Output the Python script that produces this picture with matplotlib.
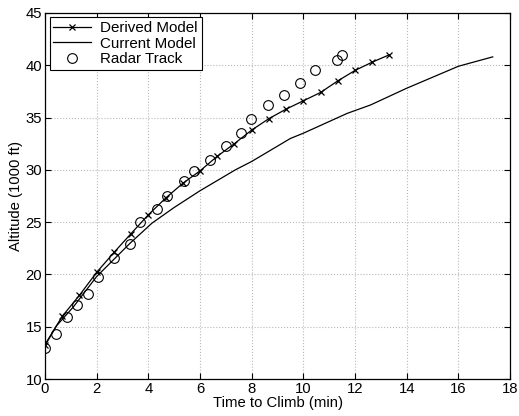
import numpy as np
import matplotlib
matplotlib.use('Agg')
import matplotlib.pyplot as plt

plt.rcParams['font.family'] = ['Liberation Sans', 'DejaVu Sans']
plt.rcParams['font.size'] = 10.7

# ---- data ----
derived_t = [0, 0.67, 1.33, 2.0, 2.67, 3.33, 4.0, 4.67, 5.33, 6.0, 6.67,
             7.33, 8.0, 8.67, 9.33, 10.0, 10.67, 11.33, 12.0, 12.67, 13.33]
derived_alt = [13.3, 16.0, 18.0, 20.2, 22.1, 23.9, 25.7, 27.3, 28.7, 29.9, 31.3,
               32.5, 33.8, 34.9, 35.8, 36.6, 37.4, 38.5, 39.5, 40.3, 41.0]

current_t = [0, 0.45, 1.1, 2.0, 3.3, 4.14, 5.0, 6.0, 7.37, 8.0, 9.5, 10.0,
             11.7, 12.6, 14.0, 16.0, 17.33]
current_alt = [13.2, 15.1, 16.9, 19.8, 23.0, 24.9, 26.4, 28.0, 30.0, 30.8, 33.0, 33.5,
               35.4, 36.2, 37.8, 39.9, 40.8]

radar_t = [0, 0.41, 0.84, 1.23, 1.66, 2.07, 2.68, 3.30, 3.69, 4.33, 4.72, 5.37,
           5.75, 6.37, 7.01, 7.59, 7.99, 8.62, 9.24, 9.86, 10.47, 11.29, 11.48]
radar_alt = [12.95, 14.3, 15.9, 17.1, 18.15, 19.8, 21.6, 22.9, 25.0, 26.3, 27.5, 28.9,
             29.9, 30.9, 32.3, 33.5, 34.9, 36.2, 37.2, 38.3, 39.5, 40.5, 41.0]

fig = plt.figure(figsize=(5.19, 4.16), dpi=100)
ax = fig.add_axes([0.0867, 0.0889, 0.896, 0.88])

ax.plot(derived_t, derived_alt, color='black', linewidth=0.9, marker='x',
        markersize=5, markeredgewidth=0.9, label='Derived Model')
ax.plot(current_t, current_alt, color='black', linewidth=0.9, label='Current Model')
ax.plot(radar_t, radar_alt, linestyle='none', marker='o', markersize=7,
        markerfacecolor='none', markeredgecolor='black', markeredgewidth=0.8,
        label='Radar Track')

ax.set_xlim(0, 18)
ax.set_ylim(10, 45)
ax.set_xticks(np.arange(0, 19, 2))
ax.set_yticks(np.arange(10, 46, 5))
ax.grid(True, color='#b8b8b8', linestyle=':', linewidth=0.8)
ax.tick_params(direction='in', top=True, right=True, length=4, width=0.8, pad=2)
for s in ax.spines.values():
    s.set_linewidth(0.9)

ax.set_xlabel('Time to Climb (min)', labelpad=0)
ax.set_ylabel('Altitude (1000 ft)', labelpad=2)

leg = ax.legend(loc='upper left', fancybox=False, framealpha=1, edgecolor='black',
                borderaxespad=0.3, handlelength=2.5, labelspacing=0.1,
                borderpad=0.25, handletextpad=0.6, fontsize=10.9)
leg.get_frame().set_linewidth(0.8)

fig.savefig('out.png', dpi=100)
